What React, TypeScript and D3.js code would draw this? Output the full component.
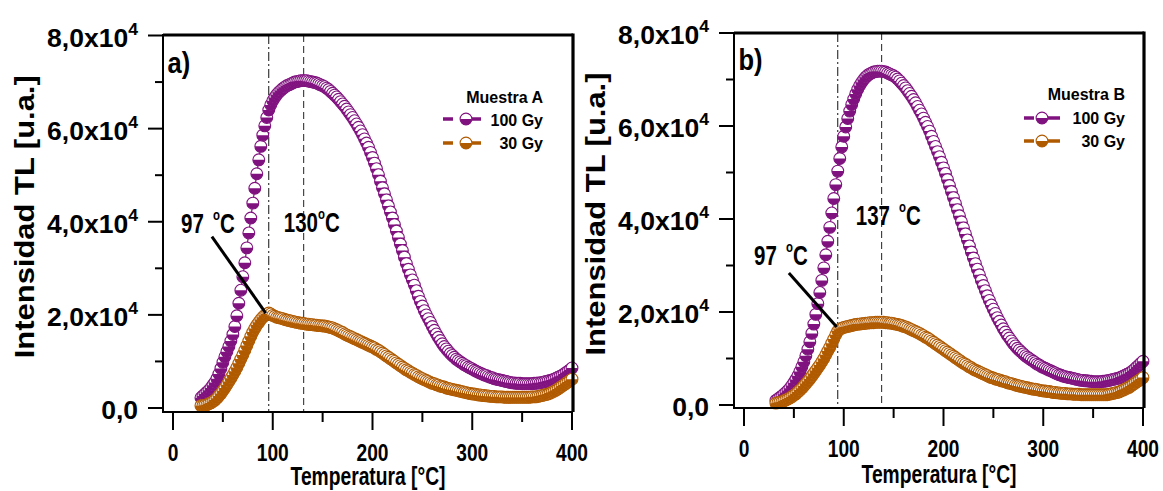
import React from "react";
import * as d3 from "d3";

// ---------- DATA (temperature in °C, TL intensity in units of 10^3 u.a.) ----------
const tempsA = [
  28, 30, 32, 34, 36, 38, 40, 42, 44, 46,
  48, 50, 52, 54, 56, 58, 60, 62, 64, 66,
  68, 70, 72, 74, 76, 78, 80, 82, 84, 86,
  88, 90, 92, 94, 96, 98, 100, 102, 104, 106,
  108, 110, 112, 114, 116, 118, 120, 122, 124, 126,
  128, 130, 132, 134, 136, 138, 140, 142, 144, 146,
  148, 150, 152, 154, 156, 158, 160, 162, 164, 166,
  168, 170, 172, 174, 176, 178, 180, 182, 184, 186,
  188, 190, 192, 194, 196, 198, 200, 202, 204, 206,
  208, 210, 212, 214, 216, 218, 220, 222, 224, 226,
  228, 230, 232, 234, 236, 238, 240, 242, 244, 246,
  248, 250, 252, 254, 256, 258, 260, 262, 264, 266,
  268, 270, 272, 274, 276, 278, 280, 282, 284, 286,
  288, 290, 292, 294, 296, 298, 300, 302, 304, 306,
  308, 310, 312, 314, 316, 318, 320, 322, 324, 326,
  328, 330, 332, 334, 336, 338, 340, 342, 344, 346,
  348, 350, 352, 354, 356, 358, 360, 362, 364, 366,
  368, 370, 372, 374, 376, 378, 380, 382, 384, 386,
  388, 390, 392, 394, 396, 398, 400,
];

const intensityA100 = [
  2.2, 2.6, 3.0, 3.4, 3.8, 4.3, 4.9, 5.5, 6.3, 7.3,
  8.5, 9.8, 11.0, 12.1, 13.2, 14.4, 15.8, 17.5, 19.8, 22.5,
  25.3, 28.2, 31.2, 34.4, 37.6, 40.8, 44.0, 47.2, 50.3, 53.3,
  56.2, 58.6, 60.6, 62.4, 64.0, 65.1, 66.0, 66.7, 67.3, 67.8,
  68.2, 68.6, 68.9, 69.2, 69.4, 69.6, 69.8, 70.0, 70.1, 70.2,
  70.3, 70.3, 70.3, 70.3, 70.2, 70.1, 70.0, 69.9, 69.8, 69.6,
  69.4, 69.2, 69.0, 68.7, 68.4, 68.0, 67.6, 67.2, 66.8, 66.3,
  65.8, 65.3, 64.8, 64.2, 63.6, 63.0, 62.4, 61.7, 61.0, 60.3,
  59.5, 58.7, 57.8, 56.9, 56.0, 54.9, 53.8, 52.6, 51.4, 50.1,
  48.7, 47.3, 46.0, 44.7, 43.4, 42.1, 40.8, 39.4, 38.0, 36.6,
  35.2, 33.8, 32.4, 31.0, 29.8, 28.6, 27.5, 26.4, 25.2, 24.0,
  22.9, 21.9, 20.9, 20.0, 19.2, 18.4, 17.5, 16.7, 15.9, 15.2,
  14.5, 13.8, 13.2, 12.7, 12.2, 11.7, 11.3, 10.9, 10.5, 10.2,
  9.9, 9.6, 9.3, 9.1, 8.8, 8.6, 8.4, 8.1, 7.9, 7.7,
  7.5, 7.3, 7.1, 7.0, 6.8, 6.6, 6.5, 6.3, 6.2, 6.1,
  6.0, 5.9, 5.8, 5.7, 5.6, 5.5, 5.4, 5.4, 5.3, 5.3,
  5.3, 5.2, 5.2, 5.2, 5.2, 5.2, 5.2, 5.3, 5.3, 5.4,
  5.4, 5.5, 5.6, 5.7, 5.8, 5.9, 6.0, 6.2, 6.4, 6.6,
  6.8, 7.0, 7.3, 7.6, 7.9, 8.2, 8.6,
];

const intensityA30 = [
  0.5, 0.5, 0.6, 0.7, 0.9, 1.1, 1.4, 1.7, 2.1, 2.6,
  3.1, 3.7, 4.3, 5.0, 5.7, 6.4, 7.1, 7.9, 8.7, 9.6,
  10.5, 11.4, 12.4, 13.4, 14.4, 15.4, 16.3, 17.1, 17.8, 18.4,
  19.0, 19.5, 19.9, 20.2, 20.4, 20.2, 19.9, 19.7, 19.5, 19.4,
  19.3, 19.2, 19.0, 18.9, 18.8, 18.7, 18.6, 18.5, 18.4, 18.3,
  18.2, 18.2, 18.1, 18.0, 18.0, 17.9, 17.9, 17.8, 17.8, 17.7,
  17.7, 17.6, 17.6, 17.5, 17.4, 17.3, 17.2, 17.0, 16.8, 16.6,
  16.4, 16.2, 15.9, 15.7, 15.5, 15.3, 15.1, 14.9, 14.7, 14.5,
  14.3, 14.1, 13.9, 13.7, 13.5, 13.3, 13.1, 12.9, 12.6, 12.4,
  12.1, 11.8, 11.5, 11.2, 10.9, 10.6, 10.3, 10.0, 9.7, 9.4,
  9.1, 8.8, 8.5, 8.2, 8.0, 7.7, 7.5, 7.2, 7.0, 6.7,
  6.5, 6.3, 6.1, 5.9, 5.7, 5.5, 5.3, 5.2, 5.0, 4.9,
  4.7, 4.6, 4.5, 4.3, 4.2, 4.1, 4.0, 3.9, 3.8, 3.7,
  3.6, 3.5, 3.4, 3.3, 3.2, 3.1, 3.0, 3.0, 2.9, 2.8,
  2.8, 2.7, 2.7, 2.6, 2.6, 2.5, 2.5, 2.5, 2.4, 2.4,
  2.4, 2.4, 2.3, 2.3, 2.3, 2.3, 2.3, 2.3, 2.3, 2.3,
  2.3, 2.3, 2.3, 2.3, 2.3, 2.3, 2.4, 2.4, 2.4, 2.5,
  2.6, 2.7, 2.8, 2.9, 3.0, 3.2, 3.4, 3.6, 3.8, 4.1,
  4.4, 4.7, 5.0, 5.3, 5.6, 5.9, 6.2,
];

const tempsB = [
  32, 34, 36, 38, 40, 42, 44, 46, 48, 50,
  52, 54, 56, 58, 60, 62, 64, 66, 68, 70,
  72, 74, 76, 78, 80, 82, 84, 86, 88, 90,
  92, 94, 96, 98, 100, 102, 104, 106, 108, 110,
  112, 114, 116, 118, 120, 122, 124, 126, 128, 130,
  132, 134, 136, 138, 140, 142, 144, 146, 148, 150,
  152, 154, 156, 158, 160, 162, 164, 166, 168, 170,
  172, 174, 176, 178, 180, 182, 184, 186, 188, 190,
  192, 194, 196, 198, 200, 202, 204, 206, 208, 210,
  212, 214, 216, 218, 220, 222, 224, 226, 228, 230,
  232, 234, 236, 238, 240, 242, 244, 246, 248, 250,
  252, 254, 256, 258, 260, 262, 264, 266, 268, 270,
  272, 274, 276, 278, 280, 282, 284, 286, 288, 290,
  292, 294, 296, 298, 300, 302, 304, 306, 308, 310,
  312, 314, 316, 318, 320, 322, 324, 326, 328, 330,
  332, 334, 336, 338, 340, 342, 344, 346, 348, 350,
  352, 354, 356, 358, 360, 362, 364, 366, 368, 370,
  372, 374, 376, 378, 380, 382, 384, 386, 388, 390,
  392, 394, 396, 398, 400,
];

const intensityB100 = [
  1.0, 1.3, 1.6, 1.9, 2.3, 2.7, 3.1, 3.6, 4.2, 4.8,
  5.5, 6.3, 7.2, 8.2, 9.3, 10.6, 12.0, 13.6, 15.4, 17.4,
  19.5, 21.8, 24.2, 26.8, 29.5, 32.3, 35.2, 38.2, 41.3, 44.4,
  47.4, 50.3, 53.0, 55.5, 57.8, 59.8, 61.6, 63.2, 64.6, 65.8,
  66.9, 67.9, 68.7, 69.4, 70.0, 70.5, 70.9, 71.2, 71.4, 71.6,
  71.7, 71.8, 71.8, 71.8, 71.7, 71.6, 71.4, 71.2, 71.0, 70.8,
  70.5, 70.1, 69.7, 69.2, 68.7, 68.2, 67.6, 67.0, 66.4, 65.7,
  65.0, 64.2, 63.4, 62.6, 61.7, 60.8, 59.9, 58.9, 57.8, 56.7,
  55.6, 54.5, 53.4, 52.2, 51.0, 49.8, 48.5, 47.2, 45.9, 44.6,
  43.3, 42.0, 40.7, 39.4, 38.1, 36.8, 35.5, 34.2, 32.9, 31.6,
  30.4, 29.2, 28.0, 26.8, 25.7, 24.6, 23.5, 22.5, 21.5, 20.6,
  19.7, 18.8, 18.0, 17.2, 16.4, 15.7, 15.0, 14.4, 13.8, 13.2,
  12.7, 12.2, 11.8, 11.4, 11.0, 10.6, 10.3, 10.0, 9.7, 9.4,
  9.1, 8.8, 8.6, 8.3, 8.1, 7.9, 7.7, 7.5, 7.3, 7.1,
  6.9, 6.7, 6.5, 6.4, 6.2, 6.1, 6.0, 5.9, 5.8, 5.7,
  5.6, 5.5, 5.4, 5.3, 5.3, 5.2, 5.2, 5.1, 5.1, 5.0,
  5.0, 5.0, 5.0, 5.0, 5.1, 5.1, 5.2, 5.3, 5.4, 5.5,
  5.6, 5.7, 5.8, 6.0, 6.2, 6.4, 6.6, 6.8, 7.1, 7.4,
  7.8, 8.2, 8.6, 9.0, 9.4,
];

const intensityB30 = [
  0.4, 0.5, 0.6, 0.7, 0.9, 1.1, 1.3, 1.5, 1.8, 2.1,
  2.4, 2.8, 3.2, 3.6, 4.1, 4.6, 5.1, 5.6, 6.2, 6.8,
  7.4, 8.0, 8.6, 9.3, 10.0, 10.8, 11.6, 12.4, 13.3, 14.2,
  15.1, 15.9, 16.3, 16.5, 16.7, 16.8, 16.9, 17.0, 17.1, 17.2,
  17.3, 17.4, 17.4, 17.5, 17.5, 17.6, 17.6, 17.7, 17.7, 17.7,
  17.8, 17.8, 17.8, 17.8, 17.8, 17.7, 17.7, 17.6, 17.6, 17.5,
  17.4, 17.3, 17.2, 17.1, 16.9, 16.8, 16.6, 16.4, 16.2, 16.0,
  15.8, 15.6, 15.4, 15.1, 14.9, 14.6, 14.4, 14.1, 13.8, 13.5,
  13.2, 12.9, 12.6, 12.3, 12.0, 11.7, 11.4, 11.1, 10.8, 10.5,
  10.2, 9.9, 9.6, 9.3, 9.0, 8.8, 8.5, 8.2, 8.0, 7.7,
  7.5, 7.3, 7.1, 6.9, 6.7, 6.5, 6.3, 6.1, 5.9, 5.8,
  5.6, 5.5, 5.4, 5.2, 5.1, 5.0, 4.8, 4.7, 4.6, 4.5,
  4.3, 4.2, 4.1, 4.0, 3.9, 3.8, 3.7, 3.6, 3.5, 3.4,
  3.4, 3.3, 3.2, 3.1, 3.0, 3.0, 2.9, 2.9, 2.8, 2.7,
  2.7, 2.6, 2.6, 2.5, 2.5, 2.5, 2.4, 2.4, 2.4, 2.3,
  2.3, 2.3, 2.3, 2.2, 2.2, 2.2, 2.2, 2.2, 2.2, 2.2,
  2.2, 2.2, 2.2, 2.2, 2.2, 2.2, 2.2, 2.3, 2.4, 2.5,
  2.6, 2.7, 2.8, 3.0, 3.2, 3.4, 3.6, 3.8, 4.1, 4.4,
  4.7, 5.0, 5.3, 5.6, 5.9,
];

const xTicks = [0, 100, 200, 300, 400];
const xMinorTicks = [50, 150, 250, 350];
const yTicks = [0, 20, 40, 60, 80];
const yTickMantissa = ["0,0", "2,0x10", "4,0x10", "6,0x10", "8,0x10"];
const yMinorTicks = [10, 30, 50, 70];
const seriesNames = ["100 Gy", "30 Gy"];
const legendTitles = ["Muestra A", "Muestra B"];
const panelLetters = ["a)", "b)"];
const xTitle = "Temperatura [°C]";
const yTitle = "Intensidad TL [u.a.]";

// ---------- STYLE ----------
const PURPLE = "#80127f";
const ORANGE = "#b05a00";
const FONT = "'Liberation Sans', Arial, sans-serif";
const R = 5.9;

type PanelCfg = {
  frame: { left: number; right: number; top: number; bottom: number };
  xRange: [number, number];
  yRange: [number, number];
  temps: number[];
  s100: number[];
  s30: number[];
  title: string;
  letter: string;
  legend: { textRight: number; titleY: number; rowY: number[]; symY: number[]; lineL: number; lineR: number; gapR: number; cx: number };
  vDashDot: number;
  vDashed: number;
  peakText: { t: number; i: number; main: string; space: boolean };
  lowText: { t: number; i: number };
  leader: [number, number, number, number];
  yLabelX: number;
};

const panels: PanelCfg[] = [
  {
    frame: { left: 163, right: 573, top: 35, bottom: 412 },
    xRange: [173, 572],
    yRange: [408, 35.5],
    temps: tempsA,
    s100: intensityA100,
    s30: intensityA30,
    title: legendTitles[0],
    letter: panelLetters[0],
    legend: { textRight: 543, titleY: 103, rowY: [126, 149], symY: [119, 143], lineL: 443, lineR: 481, gapR: 453, cx: 466 },
    vDashDot: 96,
    vDashed: 131,
    peakText: { t: 111, i: 37.8, main: "130", space: false },
    lowText: { t: 8, i: 37.6 },
    leader: [39, 36.8, 93, 20.4],
    yLabelX: 34,
  },
  {
    frame: { left: 734, right: 1144, top: 33, bottom: 408 },
    xRange: [744, 1143],
    yRange: [405, 33],
    temps: tempsB,
    s100: intensityB100,
    s30: intensityB30,
    title: legendTitles[1],
    letter: panelLetters[1],
    legend: { textRight: 1125, titleY: 100, rowY: [124, 147], symY: [118, 141], lineL: 1024, lineR: 1060, gapR: 1034, cx: 1042 },
    vDashDot: 94,
    vDashed: 138,
    peakText: { t: 112, i: 38.7, main: "137", space: true },
    lowText: { t: 10, i: 30.1 },
    leader: [45, 28.4, 93, 16.8],
    yLabelX: 605,
  },
];

function Marker({ cx, cy, color }: { cx: number; cy: number; color: string }) {
  return (
    <g>
      <circle cx={cx} cy={cy} r={R} fill="#fff" stroke={color} strokeWidth={1.1} />
      <path d={`M${cx - R},${cy}A${R},${R} 0 0 0 ${cx + R},${cy}Z`} fill={color} />
    </g>
  );
}

function Series({ temps, values, x, y, color }: any) {
  const pts = temps.map((t: number, k: number) => [x(t), y(values[k])]).filter((p: number[]) => isFinite(p[1]));
  const line = d3.line()(pts as [number, number][]) || "";
  return (
    <g>
      <path d={line} fill="none" stroke={color} strokeWidth={1.2} />
      {pts.map((p: number[], k: number) => (
        <Marker key={k} cx={p[0]} cy={p[1]} color={color} />
      ))}
    </g>
  );
}

function Panel({ cfg }: { cfg: PanelCfg }) {
  const { frame: f } = cfg;
  const x = d3.scaleLinear().domain([0, 400]).range(cfg.xRange);
  const y = d3.scaleLinear().domain([0, 80]).range(cfg.yRange);
  const lg = cfg.legend;
  const midY = (y(0) + y(80)) / 2 - 5;
  return (
    <g fontFamily={FONT}>
      {/* reference lines */}
      <line x1={x(cfg.vDashDot)} x2={x(cfg.vDashDot)} y1={f.top} y2={f.bottom} stroke="#111" strokeWidth={1} strokeDasharray="9,3,2,3" />
      <line x1={x(cfg.vDashed)} x2={x(cfg.vDashed)} y1={f.top} y2={f.bottom} stroke="#222" strokeWidth={1} strokeDasharray="7,4" />

      {/* data */}
      <Series temps={cfg.temps} values={cfg.s100} x={x} y={y} color={PURPLE} />
      <Series temps={cfg.temps} values={cfg.s30} x={x} y={y} color={ORANGE} />

      {/* frame */}
      <line x1={f.left} x2={f.right} y1={f.top} y2={f.top} stroke="#000" strokeWidth={3} />
      <line x1={f.right} x2={f.right} y1={f.top - 1.5} y2={f.bottom} stroke="#000" strokeWidth={3.2} />
      <line x1={f.left} x2={f.left} y1={f.top - 1} y2={f.bottom + 1} stroke="#000" strokeWidth={2} />
      <line x1={f.left - 1} x2={f.right} y1={f.bottom} y2={f.bottom} stroke="#000" strokeWidth={2} />

      {/* y ticks */}
      {yTicks.map((v, k) => (
        <g key={"yt" + k}>
          <line x1={f.left - 15} x2={f.left} y1={y(v)} y2={y(v)} stroke="#000" strokeWidth={2} />
          <text
            transform={`translate(${f.left - 25},${y(v) + 11}) scale(1.04,1)`}
            textAnchor="end"
            fontSize={25.5}
            fontWeight="bold"
          >
            {yTickMantissa[k]}
            {v !== 0 && (
              <tspan fontSize={17} dy={-12}>
                4
              </tspan>
            )}
          </text>
        </g>
      ))}
      {yMinorTicks.map((v) => (
        <line key={"ym" + v} x1={f.left - 8} x2={f.left} y1={y(v)} y2={y(v)} stroke="#000" strokeWidth={2} />
      ))}

      {/* x ticks */}
      {xTicks.map((v) => (
        <g key={"xt" + v}>
          <line x1={x(v)} x2={x(v)} y1={f.bottom} y2={f.bottom + 18} stroke="#000" strokeWidth={2} />
          <text transform={`translate(${x(v)},${f.bottom + 49}) scale(0.8,1)`} textAnchor="middle" fontSize={24} fontWeight="bold">
            {v}
          </text>
        </g>
      ))}
      {xMinorTicks.map((v) => (
        <line key={"xm" + v} x1={x(v)} x2={x(v)} y1={f.bottom} y2={f.bottom + 10} stroke="#000" strokeWidth={2} />
      ))}

      {/* axis titles */}
      <text transform={`translate(${x(195.5)},${Math.min(f.bottom + 75, 485)}) scale(0.77,1)`} textAnchor="middle" fontSize={25} fontWeight="bold">
        {xTitle}
      </text>
      <text
        transform={`translate(${cfg.yLabelX},${midY}) rotate(-90)`}
        textAnchor="middle"
        fontSize={28}
        fontWeight="bold"
        textLength={283}
        lengthAdjust="spacingAndGlyphs"
      >
        {yTitle}
      </text>

      {/* panel letter */}
      <text transform={`translate(${x(-5.5)},${y(72)}) scale(0.85,1)`} fontSize={30} fontWeight="bold">
        {cfg.letter}
      </text>

      {/* legend */}
      <text x={lg.textRight} y={lg.titleY} textAnchor="end" fontSize={16} fontWeight="bold">
        {cfg.title}
      </text>
      {[PURPLE, ORANGE].map((c, k) => (
        <g key={"lg" + k}>
          <line x1={lg.lineL} x2={lg.gapR} y1={lg.symY[k]} y2={lg.symY[k]} stroke={c} strokeWidth={3.5} />
          <line x1={lg.cx} x2={lg.lineR} y1={lg.symY[k]} y2={lg.symY[k]} stroke={c} strokeWidth={3.5} />
          <Marker cx={lg.cx} cy={lg.symY[k]} color={c} />
          <text x={lg.textRight} y={lg.rowY[k]} textAnchor="end" fontSize={16} fontWeight="bold">
            {seriesNames[k]}
          </text>
        </g>
      ))}

      {/* annotations */}
      <text transform={`translate(${x(cfg.lowText.t)},${y(cfg.lowText.i)}) scale(0.76,1)`} fontSize={27} fontWeight="bold">
        97
        <tspan dx={12} dy={-13} fontSize={15}>
          o
        </tspan>
        <tspan dy={13} fontSize={27}>
          C
        </tspan>
      </text>
      <text transform={`translate(${x(cfg.peakText.t)},${y(cfg.peakText.i)}) scale(0.76,1)`} fontSize={27} fontWeight="bold">
        {cfg.peakText.main}
        <tspan dx={cfg.peakText.space ? 12 : 0} dy={-13} fontSize={15}>
          o
        </tspan>
        <tspan dy={13} fontSize={27}>
          C
        </tspan>
      </text>
      <line
        x1={x(cfg.leader[0])}
        y1={y(cfg.leader[1])}
        x2={x(cfg.leader[2])}
        y2={y(cfg.leader[3])}
        stroke="#000"
        strokeWidth={3}
      />
    </g>
  );
}

export default function App() {
  return (
    <svg
      width={1163}
      height={491}
      style={{ position: "absolute", left: 0, top: 0, background: "#fff" }}
    >
      <rect width={1163} height={491} fill="#fff" />
      {panels.map((p, k) => (
        <Panel key={k} cfg={p} />
      ))}
    </svg>
  );
}
